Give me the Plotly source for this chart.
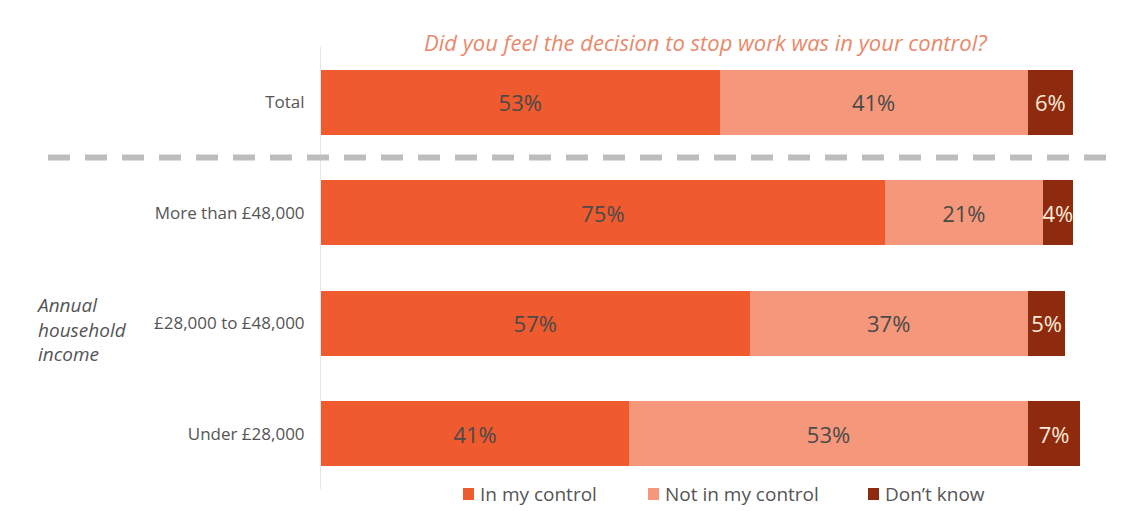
import plotly.graph_objects as go

# Survey results: share of respondents by income band
categories = ["Total", "More than £48,000", "£28,000 to £48,000", "Under £28,000"]
in_control = [53, 75, 57, 41]
not_in_control = [41, 21, 37, 53]
dont_know = [6, 4, 5, 7]

series = [
    ("In my control", in_control, "#EF5A2F", "#4a4a4a"),
    ("Not in my control", not_in_control, "#F5977A", "#4a4a4a"),
    ("Don’t know", dont_know, "#8E2A0E", "#FBEBD8"),
]

FONT = "Open Sans"
W, H = 1137, 511
L, R, T, B = 321, 19, 47, 22
plot_w = W - L - R
plot_h = H - T - B


def px_x(px):
    return (px - L) / plot_w


def px_y(py):
    return (H - B - py) / plot_h


fig = go.Figure()
for name, vals, color, txtcolor in series:
    fig.add_trace(go.Bar(
        y=categories,
        x=vals,
        name=name,
        orientation="h",
        marker=dict(color=color, line=dict(width=0)),
        width=0.59,
        text=[f"{v}%" for v in vals],
        textposition="inside",
        insidetextanchor="middle",
        textangle=0,
        constraintext="none",
        textfont=dict(family=FONT, size=22, color=txtcolor),
        hoverinfo="skip",
        showlegend=False,
    ))

# Legend drawn as swatches + labels along the bottom
legend_swatch_x = [463, 648, 868]
legend_y = 494
shapes = [
    dict(
        type="line",
        xref="paper", yref="y",
        x0=px_x(48), x1=px_x(1116),
        y0=0.5, y1=0.5,
        line=dict(color="#BDBDBD", width=6, dash="22px,15px"),
    )
]
annotations = [
    dict(
        text="<i>Did you feel the decision to stop work was in your control?</i>",
        xref="paper", yref="paper",
        x=px_x(705), y=px_y(42),
        xanchor="center", yanchor="middle",
        showarrow=False,
        font=dict(family=FONT, size=22, color="#E8896B"),
    ),
    dict(
        text="<i>Annual<br>household<br>income</i>",
        xref="paper", yref="paper",
        x=px_x(34), y=px_y(329),
        xanchor="left", yanchor="middle",
        align="left",
        showarrow=False,
        font=dict(family=FONT, size=19, color="#555555"),
    ),
]
for (name, _, color, _), sx in zip(series, legend_swatch_x):
    shapes.append(dict(
        type="rect",
        xref="paper", yref="paper",
        x0=px_x(sx), x1=px_x(sx + 11),
        y0=px_y(legend_y + 6), y1=px_y(legend_y - 6),
        fillcolor=color, line=dict(width=0),
    ))
    annotations.append(dict(
        text=name,
        xref="paper", yref="paper",
        x=px_x(sx + 15), y=px_y(legend_y),
        xanchor="left", yanchor="middle",
        showarrow=False,
        font=dict(family=FONT, size=19, color="#555555"),
    ))

fig.update_layout(
    barmode="stack",
    width=W,
    height=H,
    margin=dict(l=L, r=R, t=T, b=B, autoexpand=False),
    paper_bgcolor="white",
    plot_bgcolor="white",
    font=dict(family=FONT, color="#555555"),
    showlegend=False,
    xaxis=dict(
        range=[0, 106],
        visible=False,
        fixedrange=True,
    ),
    yaxis=dict(
        categoryorder="array",
        categoryarray=categories,
        autorange="reversed",
        showgrid=False,
        zeroline=False,
        showline=True,
        linecolor="#E6E6E6",
        linewidth=1,
        ticks="",
        ticklabelstandoff=12,
        tickfont=dict(family=FONT, size=17, color="#555555"),
    ),
    shapes=shapes,
    annotations=annotations,
)

fig.write_html("out.html")
